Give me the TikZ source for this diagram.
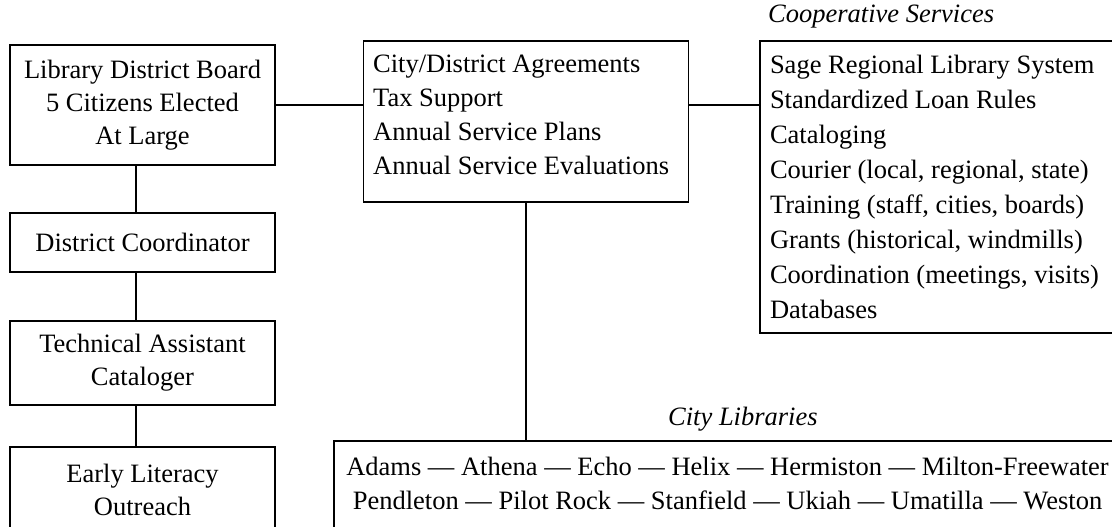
\documentclass[tikz,border=0pt]{standalone}
\usepackage{fontspec}
\setmainfont{Liberation Serif}
\begin{document}
\begin{tikzpicture}[x=1pt,y=-1pt,
  orgbox/.style={draw, line width=1.4pt, inner sep=0pt, font=\fontsize{26.5}{33}\selectfont},
  plaintext/.style={inner sep=0pt, font=\fontsize{26.5}{34}\selectfont},
  grouplabel/.style={inner sep=0pt, font=\fontsize{26.5}{30}\selectfont\itshape},
  conn/.style={line width=1.4pt}]
\useasboundingbox (0,0) rectangle (1112,527);
\clip (0,0) rectangle (1112,527);
\coordinate (spine) at (136,0);
% left column
\node[orgbox, minimum width=265, minimum height=120, align=center] (board) at (142.5,105) {Library District Board\\5 Citizens Elected\\At Large};
\node[orgbox, minimum width=265, minimum height=59, align=center] (coord) at (142.5,242.5) {District Coordinator};
\node[orgbox, minimum width=265, minimum height=84, align=center] (tech) at (142.5,363) {Technical Assistant\\Cataloger};
\node[orgbox, minimum width=265, minimum height=86, align=center] (early) at (142.5,490) {Early Literacy\\Outreach};
% agreements
\node[orgbox, minimum width=325, minimum height=161] (agree) at (526,121.5) {};
\node[plaintext, anchor=west, align=flush left] (agreetext) at (373,114.5) {City/District Agreements\\Tax Support\\Annual Service Plans\\Annual Service Evaluations};
% cooperative services
\node[grouplabel, anchor=west] (cooplabel) at (768,16.5) {Cooperative Services};
\node[orgbox, minimum width=362, minimum height=292, align=flush left, text width=342, font=\fontsize{26.5}{35}\selectfont] (coop) at (941,187) {Sage Regional Library System\\Standardized Loan Rules\\Cataloging\\Courier (local, regional, state)\\Training (staff, cities, boards)\\Grants (historical, windmills)\\Coordination (meetings, visits)\\Databases};
% city libraries
\node[grouplabel, anchor=west] (citylabel) at (668,419) {City Libraries};
\node[orgbox, minimum width=787, minimum height=100] (city) at (727.5,491) {};
\node[plaintext, align=center] (citytext) at (727.5,484) {Adams — Athena — Echo — Helix — Hermiston — Milton-Freewater\\Pendleton — Pilot Rock — Stanfield — Ukiah — Umatilla — Weston};
% connectors
\draw[conn] (board.east) -- (board.east -| agree.west);
\draw[conn] (board.east -| agree.east) -- (board.east -| coop.west);
\draw[conn] (board.south -| spine) -- (coord.north -| spine);
\draw[conn] (coord.south -| spine) -- (tech.north -| spine);
\draw[conn] (tech.south -| spine) -- (early.north -| spine);
\draw[conn] (agree.south) -- (agree.south |- city.north);
\end{tikzpicture}
\end{document}
